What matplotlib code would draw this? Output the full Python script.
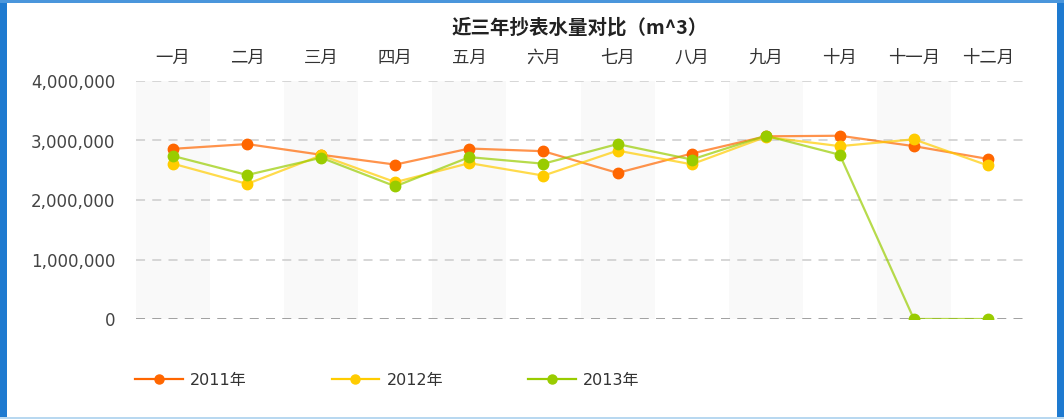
import matplotlib
matplotlib.use('Agg')
import matplotlib.pyplot as plt
from matplotlib.patches import Rectangle
from matplotlib.ticker import FuncFormatter

plt.rcParams['font.family'] = ['Noto Sans CJK SC', 'DejaVu Sans']

months = ['一月', '二月', '三月', '四月', '五月', '六月',
          '七月', '八月', '九月', '十月', '十一月', '十二月']
years = ['2011年', '2012年', '2013年']
v2011 = [2860000, 2940000, 2760000, 2595000, 2865000, 2820000,
         2455000, 2780000, 3070000, 3080000, 2905000, 2690000]
v2012 = [2610000, 2270000, 2750000, 2300000, 2620000, 2410000,
         2830000, 2600000, 3060000, 2905000, 3020000, 2580000]
v2013 = [2740000, 2420000, 2710000, 2230000, 2720000, 2610000,
         2940000, 2680000, 3080000, 2760000, 0, 0]
yticks = [0, 1000000, 2000000, 3000000, 4000000]
colors = ['#ff6600', '#ffcc00', '#99cc00']

W, H = 1064, 419
fig = plt.figure(figsize=(W / 100, H / 100), dpi=100)
ax = fig.add_axes([136 / W, 1 - 319 / H, 889 / W, 238 / H])

x = range(len(months))
for i in range(0, len(months), 2):
    ax.axvspan(i - 0.5, i + 0.5, color='#f9f9f9', zorder=0, lw=0)

for t in yticks:
    ax.axhline(t, color='#999999' if t == 0 else '#d3d3d3', lw=1.3,
               dashes=(5, 4), zorder=1)

for vals, c, lab in zip([v2011, v2012, v2013], colors, years):
    ax.plot(x, vals, color=c, lw=1.6, alpha=0.7, zorder=2)
    ax.plot(x, vals, color=c, marker='o', ms=7.5, ls='none', zorder=3)
    ax.plot([], [], color=c, lw=1.6, marker='o', ms=6.5, label=lab)

ax.set_xlim(-0.5, len(months) - 0.5)
ax.set_ylim(0, 4000000)
ax.set_yticks(yticks)
ax.yaxis.set_major_formatter(FuncFormatter(lambda v, p: f'{int(v):,}'))
ax.set_xticks(list(x))
ax.set_xticklabels(months)
ax.xaxis.tick_top()
ax.tick_params(axis='x', length=0, pad=10, labelsize=12.5, colors='#333333')
ax.tick_params(axis='y', length=0, pad=15, labelsize=12, colors='#444444',
               labelfontfamily='DejaVu Sans')
for s in ax.spines.values():
    s.set_visible(False)

fig.text(580 / W, 1 - 28 / H, '近三年抄表水量对比（m^3）', ha='center', va='center',
         fontsize=14, fontweight='bold', color='#222222')

leg = fig.legend(loc='center left', bbox_to_anchor=(135 / W, 1 - 380 / H),
                 ncol=3, frameon=False, handlelength=3.0,
                 handletextpad=0.45, columnspacing=5.3, borderpad=0,
                 borderaxespad=0,
                 prop={'family': ['DejaVu Sans', 'Noto Sans CJK SC'], 'size': 11.5})
for t in leg.get_texts():
    t.set_color('#333333')

# blue frame around the chart
fig.patches.append(Rectangle((0, 0), 7 / W, 1, transform=fig.transFigure,
                             color='#1e7ad0', lw=0))
fig.patches.append(Rectangle((1 - 7 / W, 0), 7 / W, 1, transform=fig.transFigure,
                             color='#1e7ad0', lw=0))
fig.patches.append(Rectangle((0, 1 - 3 / H), 1, 3 / H, transform=fig.transFigure,
                             color='#4a96dc', lw=0))
fig.patches.append(Rectangle((0, 0), 1, 2 / H, transform=fig.transFigure,
                             color='#b8d8f0', lw=0))

fig.savefig('out.png', dpi=100)
